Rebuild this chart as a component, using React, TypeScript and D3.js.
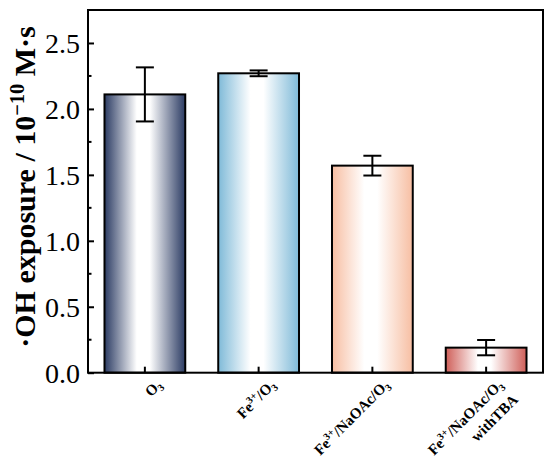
import React, { useEffect, useRef } from 'react';
import * as d3 from 'd3';

// bar categories (markup: ^{..} superscript, _x subscript, | new line)
const categories = ['O_3', 'Fe^{3+}/O_3', 'Fe^{3+}/NaOAc/O_3', 'Fe^{3+}/NaOAc/O_3|withTBA'];
const values = [2.11, 2.27, 1.57, 0.19];
const errors = [0.205, 0.022, 0.075, 0.058];
const barColors = ['#2b3b63', '#7fbad8', '#f7bea2', '#cf5f59'];
const yTicks = [0, 0.5, 1.0, 1.5, 2.0, 2.5];
const yMinorTicks = [0.25, 0.75, 1.25, 1.75, 2.25];

const FONT = '"Liberation Serif", "Times New Roman", serif';

// write a small markup string into a text element as tspans
const appendRich = (
  text: d3.Selection<SVGTextElement, unknown, null, undefined>,
  str: string,
  fs: number
) => {
  const re = /\^\{([^}]*)\}|_(\w)|([^^_]+)/g;
  let shift = 0;
  let m: RegExpExecArray | null;
  while ((m = re.exec(str)) !== null) {
    let target = 0;
    let size = fs;
    let content = '';
    if (m[1] !== undefined) {
      target = -fs * 0.38;
      size = fs * 0.68;
      content = m[1];
    } else if (m[2] !== undefined) {
      target = fs * 0.22;
      size = fs * 0.68;
      content = m[2];
    } else {
      content = m[3];
    }
    text
      .append('tspan')
      .attr('dy', target - shift)
      .style('font-size', `${size}px`)
      .text(content);
    shift = target;
  }
};

const App: React.FC = () => {
  const svgRef = useRef<SVGSVGElement>(null);

  useEffect(() => {
    if (!svgRef.current) return;
    const svg = d3.select(svgRef.current);
    svg.selectAll('*').remove();

    const width = 550;
    const height = 458;
    const margin = { top: 10, right: 7, bottom: 85.3, left: 88 };
    const plotBottom = height - margin.bottom;

    const x = d3
      .scaleBand<string>()
      .domain(categories)
      .range([margin.left, width - margin.right])
      .paddingInner(0.29)
      .paddingOuter(0.145);

    const y = d3.scaleLinear().domain([0, 2.75]).range([plotBottom, margin.top]);

    // gradients: colour at the edges, white in the middle
    const defs = svg.append('defs');
    barColors.forEach((c, i) => {
      const g = defs
        .append('linearGradient')
        .attr('id', `grad${i}`)
        .attr('x1', '0%')
        .attr('x2', '100%')
        .attr('y1', '0%')
        .attr('y2', '0%');
      g.append('stop').attr('offset', '0%').attr('stop-color', c);
      g.append('stop').attr('offset', '40%').attr('stop-color', '#ffffff');
      g.append('stop').attr('offset', '56%').attr('stop-color', '#ffffff');
      g.append('stop').attr('offset', '100%').attr('stop-color', c);
    });

    // bars
    svg
      .selectAll('rect.bar')
      .data(categories)
      .enter()
      .append('rect')
      .attr('class', 'bar')
      .attr('x', d => x(d) as number)
      .attr('y', (d, i) => y(values[i]))
      .attr('width', x.bandwidth())
      .attr('height', (d, i) => y(0) - y(values[i]))
      .attr('fill', (d, i) => `url(#grad${i})`)
      .attr('stroke', '#000')
      .attr('stroke-width', 2);

    // error bars
    const capW = 9;
    categories.forEach((c, i) => {
      const cx = (x(c) as number) + x.bandwidth() / 2;
      const hi = y(values[i] + errors[i]);
      const lo = y(values[i] - errors[i]);
      const g = svg.append('g').attr('stroke', '#000').attr('stroke-width', 2);
      g.append('line').attr('x1', cx).attr('x2', cx).attr('y1', hi).attr('y2', lo);
      g.append('line').attr('x1', cx - capW).attr('x2', cx + capW).attr('y1', hi).attr('y2', hi);
      g.append('line').attr('x1', cx - capW).attr('x2', cx + capW).attr('y1', lo).attr('y2', lo);
    });

    // frame
    svg
      .append('rect')
      .attr('x', margin.left)
      .attr('y', margin.top)
      .attr('width', width - margin.right - margin.left)
      .attr('height', plotBottom - margin.top)
      .attr('fill', 'none')
      .attr('stroke', '#000')
      .attr('stroke-width', 2);

    // y axis (ticks inward)
    const yAxis = svg
      .append('g')
      .attr('transform', `translate(${margin.left},0)`)
      .call(
        d3
          .axisRight(y)
          .tickValues(yTicks)
          .tickSize(6)
          .tickSizeOuter(0)
          .tickFormat(d3.format('.1f'))
      );
    yAxis.select('.domain').remove();
    yAxis.selectAll('.tick line').attr('stroke-width', 2);
    yAxis
      .selectAll('.tick text')
      .attr('x', -8)
      .attr('text-anchor', 'end')
      .attr('dy', '0.35em')
      .style('font-family', FONT)
      .style('font-size', '28px')
      .style('fill', '#000');

    svg
      .append('g')
      .selectAll('line')
      .data(yMinorTicks)
      .enter()
      .append('line')
      .attr('x1', margin.left)
      .attr('x2', margin.left + 3.5)
      .attr('y1', d => y(d))
      .attr('y2', d => y(d))
      .attr('stroke', '#000')
      .attr('stroke-width', 2);

    // x ticks (inward)
    svg
      .append('g')
      .selectAll('line')
      .data(categories)
      .enter()
      .append('line')
      .attr('x1', d => (x(d) as number) + x.bandwidth() / 2)
      .attr('x2', d => (x(d) as number) + x.bandwidth() / 2)
      .attr('y1', plotBottom)
      .attr('y2', plotBottom - 6)
      .attr('stroke', '#000')
      .attr('stroke-width', 2);

    // x labels, rotated
    const labelFs = 15;
    categories.forEach(c => {
      const cx = (x(c) as number) + x.bandwidth() / 2;
      const lines = c.split('|');
      lines.forEach((line, li) => {
        const t = svg
          .append('text')
          .attr('transform', `translate(${cx + 18},${plotBottom + 13}) rotate(-45) translate(0,${li * 21})`)
          .attr('text-anchor', 'end')
          .style('font-family', FONT)
          .style('font-weight', 'bold')
          .style('font-size', `${labelFs}px`)
          .style('fill', '#000');
        appendRich(t, line, labelFs);
      });
    });

    // y title
    const titleFs = 30;
    const title = svg
      .append('text')
      .attr('transform', `translate(35,187) rotate(-90)`)
      .attr('text-anchor', 'middle')
      .style('font-family', FONT)
      .style('font-weight', 'bold')
      .style('font-size', `${titleFs}px`)
      .style('fill', '#000');
    appendRich(title, '\u00B7OH exposure / 10^{\u221210} M\u00B7s', titleFs);
  }, []);

  return (
    <svg
      ref={svgRef}
      width={550}
      height={458}
      style={{ position: 'absolute', left: 0, top: 0, background: '#fff' }}
    />
  );
};

export default App;
